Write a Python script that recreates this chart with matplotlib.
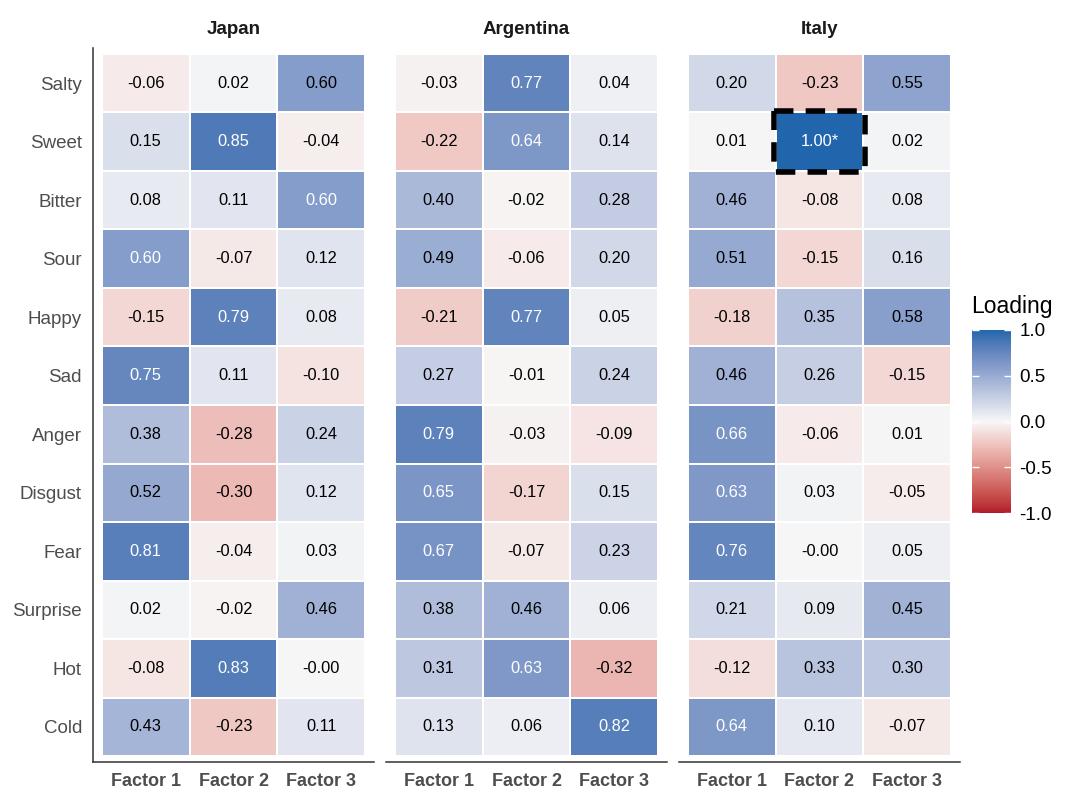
import numpy as np
import matplotlib
matplotlib.use("Agg")
import matplotlib.pyplot as plt
from matplotlib.colors import ListedColormap, Normalize, to_rgb
from matplotlib.cm import ScalarMappable
from matplotlib.patches import Rectangle

plt.rcParams['font.family'] = ['Liberation Sans', 'DejaVu Sans']

items = ["Salty", "Sweet", "Bitter", "Sour", "Happy", "Sad", "Anger",
         "Disgust", "Fear", "Surprise", "Hot", "Cold"]
factors = ["Factor 1", "Factor 2", "Factor 3"]
countries = ["Japan", "Argentina", "Italy"]

japan = [
    [-0.06, 0.02, 0.597],
    [0.15, 0.85, -0.04],
    [0.08, 0.11, 0.60],
    [0.60, -0.07, 0.12],
    [-0.15, 0.79, 0.08],
    [0.75, 0.11, -0.10],
    [0.38, -0.28, 0.24],
    [0.52, -0.30, 0.12],
    [0.81, -0.04, 0.03],
    [0.02, -0.02, 0.46],
    [-0.08, 0.83, -0.001],
    [0.43, -0.23, 0.11],
]
argentina = [
    [-0.03, 0.77, 0.04],
    [-0.22, 0.64, 0.14],
    [0.40, -0.02, 0.28],
    [0.49, -0.06, 0.20],
    [-0.21, 0.77, 0.05],
    [0.27, -0.01, 0.24],
    [0.79, -0.03, -0.09],
    [0.65, -0.17, 0.15],
    [0.67, -0.07, 0.23],
    [0.38, 0.46, 0.06],
    [0.31, 0.63, -0.32],
    [0.13, 0.06, 0.82],
]
italy = [
    [0.20, -0.23, 0.55],
    [0.01, 1.00, 0.02],
    [0.46, -0.08, 0.08],
    [0.51, -0.15, 0.16],
    [-0.18, 0.35, 0.58],
    [0.46, 0.26, -0.15],
    [0.66, -0.06, 0.01],
    [0.63, 0.03, -0.05],
    [0.76, -0.001, 0.05],
    [0.21, 0.09, 0.45],
    [-0.12, 0.33, 0.30],
    [0.64, 0.10, -0.07],
]
loadings = {"Japan": japan, "Argentina": argentina, "Italy": italy}
# flagged (heywood) cells: country, item, factor
flagged = [("Italy", "Sweet", "Factor 2")]


# gradient2-like colour scale, interpolated in Lab space
M = np.array([[0.4124, 0.3576, 0.1805], [0.2126, 0.7152, 0.0722], [0.0193, 0.1192, 0.9505]])
WHITE = np.array([0.95047, 1.0, 1.08883])

def to_lab(c):
    c = np.array(to_rgb(c))
    lin = np.where(c <= 0.04045, c / 12.92, ((c + 0.055) / 1.055) ** 2.4)
    xyz = M @ lin / WHITE
    f = np.where(xyz > 0.008856, np.cbrt(xyz), 7.787 * xyz + 16 / 116)
    return np.array([116 * f[1] - 16, 500 * (f[0] - f[1]), 200 * (f[1] - f[2])])

def from_lab(lab):
    fy = (lab[:, 0] + 16) / 116
    fx = fy + lab[:, 1] / 500
    fz = fy - lab[:, 2] / 200
    f = np.stack([fx, fy, fz], axis=1)
    xyz = np.where(f > 0.2069, f ** 3, (f - 16 / 116) / 7.787) * WHITE
    lin = xyz @ np.linalg.inv(M).T
    lin = np.clip(lin, 0, 1)
    return np.where(lin <= 0.0031308, 12.92 * lin, 1.055 * lin ** (1 / 2.4) - 0.055)

low, mid, high = to_lab("#B2182B"), to_lab("#F7F7F7"), to_lab("#2166AC")
t = np.linspace(0, 1, 256)[:, None]
half1 = low + (mid - low) * np.clip(t * 2, 0, 1)
half2 = mid + (high - mid) * np.clip(t * 2 - 1, 0, 1)
labs = np.where(t < 0.5, half1, half2)
cmap = ListedColormap(np.clip(from_lab(labs), 0, 1))
norm = Normalize(-1, 1)

fig = plt.figure(figsize=(10.8, 8.02), dpi=100)
lefts = [93, 386, 679]
n_rows = len(items)

for k, country in enumerate(countries):
    ax = fig.add_axes([lefts[k] / 1080, 1 - 762 / 802, 281 / 1080, 714 / 802])
    vals = np.array(loadings[country])
    xe = np.arange(len(factors) + 1) + 0.5
    ye = np.arange(n_rows + 1) + 0.5
    ax.pcolormesh(xe, ye, vals, cmap=cmap, norm=norm, edgecolors="white", linewidth=1.1)
    for i in range(n_rows):
        for j in range(len(factors)):
            v = vals[i, j]
            lab = f"{v:.2f}"
            if (country, items[i], factors[j]) in flagged:
                lab += "*"
            col = "white" if abs(v) >= 0.6 else "black"
            ax.text(j + 1, i + 1, lab, ha="center", va="center", fontsize=11.8, color=col)
    for c, it, fa in flagged:
        if c == country:
            i = items.index(it)
            j = factors.index(fa)
            ax.add_patch(Rectangle((j + 0.5 - 0.02, i + 0.5 - 0.02), 1.04, 1.04, fill=False,
                                   edgecolor="black", linewidth=4, linestyle=(0, (3.5, 2.2)),
                                   clip_on=False, zorder=5))
    ax.set_xlim(0.4, 3.6)
    ax.set_ylim(n_rows + 0.6, 0.4)
    ax.set_xticks(range(1, len(factors) + 1))
    ax.set_xticklabels(factors, fontsize=13, fontweight="bold", color="#4D4D4D")
    ax.tick_params(length=0, pad=8)
    ax.set_yticks(range(1, n_rows + 1))
    if k == 0:
        ax.set_yticklabels(items, fontsize=13.5, color="#4D4D4D")
        ax.tick_params(axis="y", pad=8)
    else:
        ax.set_yticklabels([])
        ax.spines["left"].set_visible(False)
    ax.spines["top"].set_visible(False)
    ax.spines["right"].set_visible(False)
    for s in ["left", "bottom"]:
        ax.spines[s].set_color("#333333")
        ax.spines[s].set_linewidth(1.1)
    ax.set_title(country, fontsize=13.5, fontweight="bold", color="#1A1A1A", pad=10)

cax = fig.add_axes([972 / 1080, 1 - 513 / 802, 39 / 1080, 183 / 802])
cb = fig.colorbar(ScalarMappable(norm=norm, cmap=cmap), cax=cax, ticks=[-1, -0.5, 0, 0.5, 1])
cb.outline.set_visible(False)
cb.ax.set_yticklabels(["-1.0", "-0.5", "0.0", "0.5", "1.0"])
cb.ax.tick_params(direction="in", length=5, color="white", width=1, left=True, right=True,
                  labelsize=13.5, pad=6)
fig.text(971 / 1080, 1 - 307 / 802, "Loading", fontsize=16.5, va="center", ha="left")

fig.savefig("out.png", dpi=100)
